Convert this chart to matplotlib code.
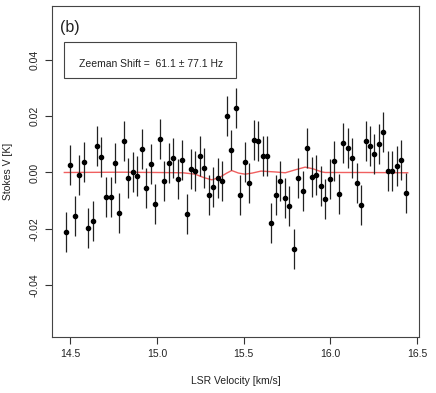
import numpy as np
import matplotlib
matplotlib.use("Agg")
import matplotlib.pyplot as plt
from matplotlib.patches import Rectangle

plt.rcParams["font.family"] = ["Liberation Sans", "DejaVu Sans"]
plt.rcParams["axes.unicode_minus"] = False

# channel velocities (km/s)
velocity = [
    14.475, 14.501, 14.527, 14.552, 14.578, 14.604, 14.630, 14.655, 14.681, 14.707,
    14.733, 14.758, 14.784, 14.810, 14.836, 14.862, 14.887, 14.913, 14.939, 14.965,
    14.990, 15.016, 15.042, 15.068, 15.094, 15.119, 15.145, 15.171, 15.197, 15.222,
    15.248, 15.274, 15.300, 15.325, 15.351, 15.377, 15.403, 15.429, 15.454, 15.480,
    15.506, 15.532, 15.557, 15.583, 15.609, 15.635, 15.660, 15.686, 15.712, 15.738,
    15.764, 15.789, 15.815, 15.841, 15.867, 15.892, 15.918, 15.944, 15.970, 15.995,
    16.021, 16.047, 16.073, 16.099, 16.124, 16.150, 16.176, 16.202, 16.227, 16.253,
    16.279, 16.305, 16.331, 16.356, 16.382, 16.408, 16.434,
]

# Stokes V (K)
stokes_v = [
    -0.0213, 0.0026, -0.0154, -0.0009, 0.0038, -0.0198, -0.0172, 0.0095, 0.0056, -0.0086,
    -0.0087, 0.0033, -0.0143, 0.0111, -0.0021, 0.0001, -0.0014, 0.0084, -0.0054, 0.0029,
    -0.0111, 0.0120, -0.0029, 0.0033, 0.0050, -0.0024, 0.0043, -0.0148, 0.0014, 0.0006,
    0.0060, 0.0017, -0.0081, -0.0050, -0.0020, -0.0029, 0.0201, 0.0079, 0.0229, -0.0079,
    0.0037, -0.0038, 0.0116, 0.0111, 0.0059, 0.0059, -0.0178, -0.0079, -0.0031, -0.0090,
    -0.0120, -0.0272, -0.0020, -0.0065, 0.0087, -0.0016, -0.0010, -0.0049, -0.0093, -0.0023,
    0.0041, -0.0076, 0.0105, 0.0088, 0.0052, -0.0036, -0.0116, 0.0112, 0.0094, 0.0065,
    0.0101, 0.0142, 0.0006, 0.0006, 0.0024, 0.0043, -0.0073,
]
stokes_err = 0.0071

# fitted Zeeman model
model_v = [14.467, 14.8, 15.0, 15.15, 15.22, 15.27, 15.316, 15.36, 15.40, 15.431,
           15.47, 15.508, 15.55, 15.60, 15.68, 15.74, 15.80, 15.854, 15.90, 15.95,
           15.97, 16.2, 16.445]
model_s = [0.0, 0.0001, 0.0, -0.0001, -0.0006, -0.0018, -0.0026, -0.0018, -0.0003, 0.0007,
           -0.0002, -0.0006, -0.0002, 0.0005, 0.0002, -0.0001, 0.0010, 0.0019, 0.0013, 0.0002,
           0.0, 0.0, -0.0001]

label_text = "Zeeman Shift =  61.1 \u00b1 77.1 Hz"

fig = plt.figure(figsize=(4.36, 3.93), dpi=100)
ax = fig.add_axes([0.1193, 0.1425, 0.8417, 0.8422])

ax.errorbar(velocity, stokes_v, yerr=stokes_err, fmt="o", color="black",
            ecolor="#222222", elinewidth=0.9, markersize=3.0, capsize=0, zorder=3)
ax.plot(model_v, model_s, color="#f06060", lw=1.0, zorder=2)

ax.set_xlim(14.396, 16.51)
ax.set_ylim(-0.0584, 0.0591)
ax.set_xticks([14.5, 15.0, 15.5, 16.0, 16.5])
ax.set_xticklabels(["14.5", "15.0", "15.5", "16.0", "16.5"])
ax.set_yticks([-0.04, -0.02, 0.0, 0.02, 0.04])
ax.set_yticklabels(["-0.04", "-0.02", "0.00", "0.02", "0.04"], rotation=90, va="center")

ax.tick_params(axis="both", direction="out", length=5, width=0.8, color="#333333",
               labelsize=7.5, labelcolor="#222222")
ax.tick_params(axis="x", pad=4)
ax.tick_params(axis="y", pad=4)
for s in ax.spines.values():
    s.set_linewidth(0.8)
    s.set_color("#444444")

ax.set_xlabel("LSR Velocity [km/s]", fontsize=7.5, color="#222222", labelpad=12)
ax.set_ylabel("Stokes V [K]", fontsize=7.5, color="#222222", labelpad=12)

ax.text(0.022, 0.935, "(b)", transform=ax.transAxes, fontsize=11.5,
        va="center", ha="left", color="#222222")
ax.add_patch(Rectangle((0.0335, 0.7825), 0.468, 0.1078, transform=ax.transAxes,
                       fill=False, edgecolor="#444444", lw=0.8))
ax.text(0.0727, 0.8248, label_text, transform=ax.transAxes, fontsize=7.5,
        va="center", ha="left", color="#222222")

fig.savefig("out.png", dpi=100)
